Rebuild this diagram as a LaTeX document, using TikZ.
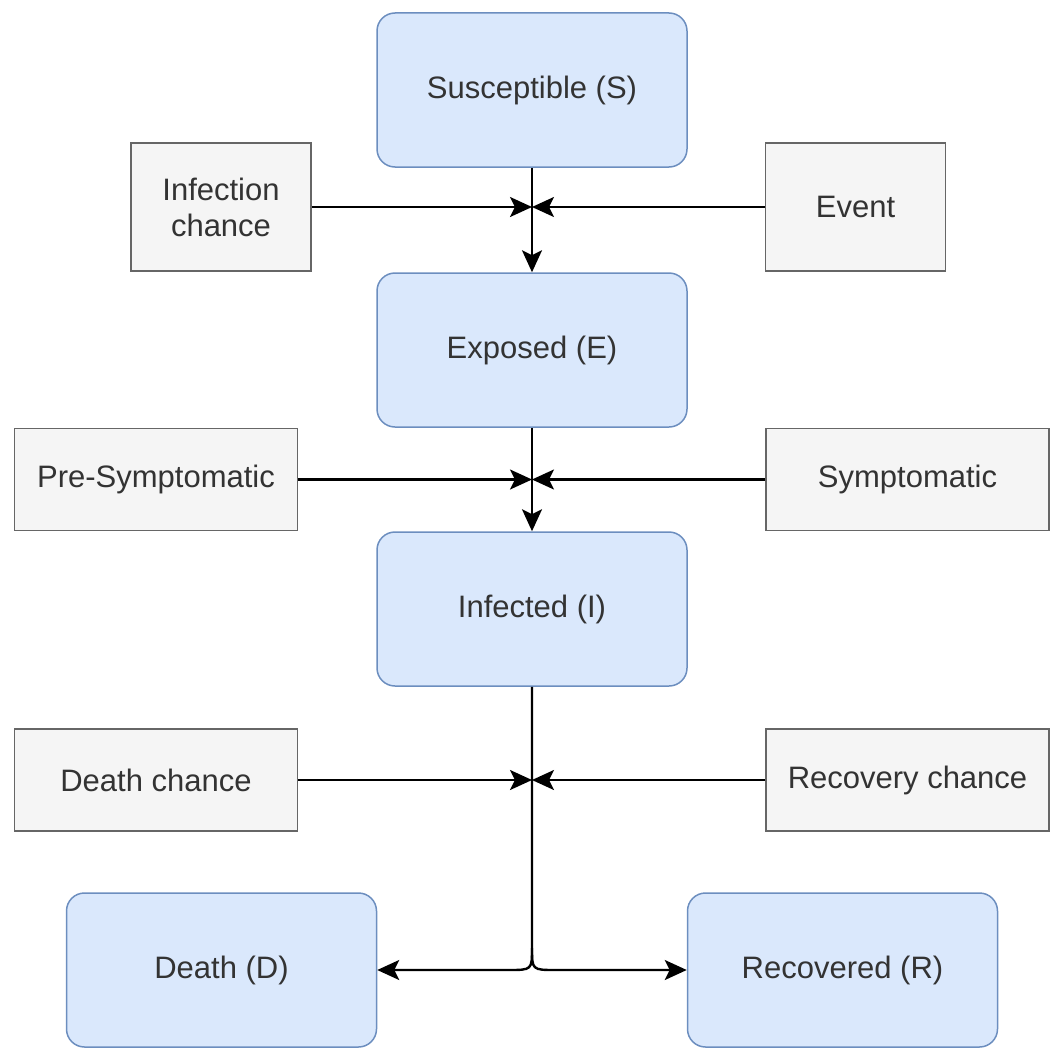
\documentclass[tikz,border=0pt]{standalone}
\usepackage{fontspec}
\setmainfont{Liberation Sans}
\usetikzlibrary{arrows.meta}

\definecolor{stateFill}{HTML}{DAE8FC}
\definecolor{stateLine}{HTML}{6C8EBF}
\definecolor{factFill}{HTML}{F5F5F5}
\definecolor{factLine}{HTML}{666666}
\definecolor{textGray}{HTML}{333333}

\begin{document}
\begin{tikzpicture}
[x=1pt,y=-1pt,
  stateDecorate/.style={shape=rectangle,rounded corners=18pt,draw=stateLine,
    fill=stateFill,line width=1.5pt,minimum width=310pt,minimum height=154pt,
    text=textGray,font=\fontsize{31}{36}\selectfont},
  factDecorate/.style={shape=rectangle,draw=factLine,fill=factFill,
    line width=1.5pt,text=textGray,align=center,
    font=\fontsize{31}{36}\selectfont},
  lineDecorate/.style={line width=2.4pt,-{Stealth[length=22pt,width=20pt,inset=5pt]}}]
\useasboundingbox (0,0) rectangle (1054,1049);
%% states of the model
\foreach \nodename/\x/\y/\txt in {
  S/532/90/{Susceptible (S)}, E/532/350/{Exposed (E)},
  I/532/609/{Infected (I)}, D/221.5/970/{Death (D)},
  R/842.5/970/{Recovered (R)}}
{
  \node (\nodename) at (\x,\y) [stateDecorate] {\txt};
}
%% factors acting on the transitions
\foreach \nodename/\x/\y/\w/\h/\txt in {
  infchance/221/207/180/128/{Infection\\chance},
  event/855.5/207/180/128/{Event},
  presym/156/479.5/283/102/{Pre-Symptomatic},
  sym/907.5/479.5/283/102/{Symptomatic},
  deathch/156/780/283/102/{Death chance},
  recch/907.5/780/283/102/{Recovery chance}}
{
  \node (\nodename) at (\x,\y) [factDecorate,minimum width=\w pt,minimum height=\h pt] {\txt};
}
%% meeting points on the main line
\coordinate (meetSE) at (S.south |- infchance.east);
\coordinate (meetEI) at (E.south |- presym.east);
\coordinate (meetID) at (I.south |- deathch.east);
\coordinate (fork) at (I.south |- D.east);
%% edges or lines
\draw[lineDecorate] (S) -- (E);
\draw[lineDecorate] (E) -- (I);
\foreach \startnode/\endnode in {
  infchance/meetSE, event/meetSE, presym/meetEI, sym/meetEI,
  deathch/meetID, recch/meetID}
{
  \draw[lineDecorate] (\startnode) -- (\endnode);
}
\draw[lineDecorate] (I.south) -- ([yshift=22pt]fork) .. controls (fork) .. ([xshift=-24pt]fork) -- (D.east);
\draw[lineDecorate] ([yshift=22pt]fork) .. controls (fork) .. ([xshift=24pt]fork) -- (R.west);
\end{tikzpicture}
\end{document}
